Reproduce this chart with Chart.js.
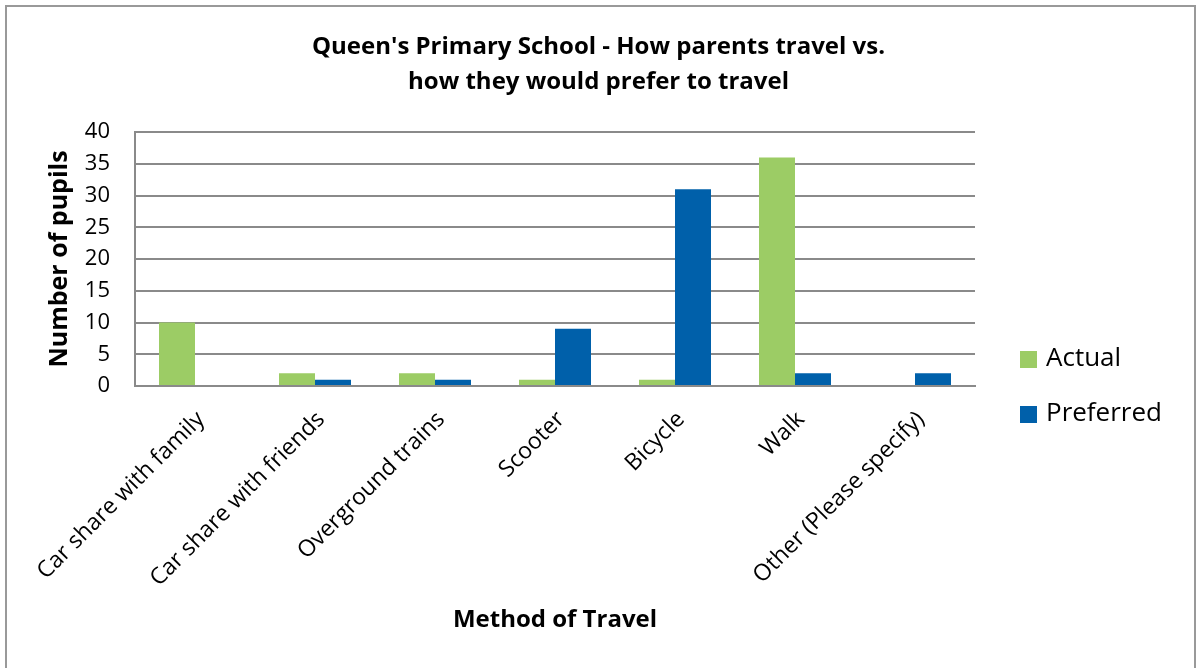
<!DOCTYPE html>
<html lang="en">
<head>
    <meta charset="UTF-8">
    <title>How parents travel vs. how they would prefer to travel</title>
    <script src="https://cdn.jsdelivr.net/npm/chart.js"></script>
    <style>
        html, body {
            margin: 0;
            padding: 0;
            background: #ffffff;
        }
        canvas {
            display: block;
        }
    </style>
</head>
<body>
    <canvas id="travelChart" width="1197" height="668"></canvas>

    <script>
        // Survey data
        const methods = [
            'Car share with family',
            'Car share with friends',
            'Overground trains',
            'Scooter',
            'Bicycle',
            'Walk',
            'Other (Please specify)'
        ];
        const actual = [10, 2, 2, 1, 1, 36, 0];
        const preferred = [0, 1, 1, 9, 31, 2, 2];
        const yTicks = [0, 5, 10, 15, 20, 25, 30, 35, 40];

        const FONT = '"Open Sans", Lato, sans-serif';
        const GRID = '#8a8a8a';

        // Frame around the whole chart
        const framePlugin = {
            id: 'frame',
            beforeDraw(chart) {
                const ctx = chart.ctx;
                ctx.save();
                ctx.strokeStyle = '#999999';
                ctx.lineWidth = 2;
                ctx.strokeRect(6, 6, 1189, 700);
                ctx.restore();
            }
        };

        // Legend on the right: a layout box keeps its width reserved
        // (so the title still centres on the full canvas) and draws the keys
        const sideLegend = {
            id: 'sideLegend',
            beforeInit(chart) {
                const box = {
                    position: 'right',
                    weight: 1000,
                    fullSize: false,
                    options: {},
                    left: 0, top: 0, right: 0, bottom: 0, width: 0, height: 0,
                    isHorizontal() { return false; },
                    getPadding() { return { left: 0, right: 0, top: 0, bottom: 0 }; },
                    update(maxWidth, maxHeight) {
                        this.width = 222;
                        this.height = maxHeight;
                    },
                    draw() {
                        const ctx = chart.ctx;
                        ctx.save();
                        ctx.font = '26px ' + FONT;
                        ctx.textBaseline = 'middle';
                        chart.data.datasets.forEach((ds, i) => {
                            const y = 359 + i * 55;
                            ctx.fillStyle = ds.backgroundColor;
                            ctx.fillRect(1020, y - 8, 17, 17);
                            ctx.fillStyle = '#000000';
                            ctx.fillText(ds.label, 1046, y);
                        });
                        ctx.restore();
                    }
                };
                Chart.layouts.addBox(chart, box);
            }
        };

        const ctx = document.getElementById('travelChart').getContext('2d');
        new Chart(ctx, {
            type: 'bar',
            data: {
                labels: methods,
                datasets: [{
                    label: 'Actual',
                    data: actual,
                    backgroundColor: '#9ccc65'
                }, {
                    label: 'Preferred',
                    data: preferred,
                    backgroundColor: '#0060aa'
                }]
            },
            options: {
                responsive: false,
                animation: false,
                layout: {
                    padding: 0
                },
                datasets: {
                    bar: {
                        categoryPercentage: 0.6,
                        barPercentage: 1.0
                    }
                },
                plugins: {
                    legend: { display: false },
                    tooltip: { enabled: false },
                    title: {
                        display: true,
                        text: ["Queen's Primary School - How parents travel vs.", 'how they would prefer to travel'],
                        color: '#000000',
                        font: { family: FONT, size: 24, weight: 'bold', lineHeight: 35 / 24 },
                        padding: { top: 29.5, bottom: 32.5 }
                    }
                },
                scales: {
                    x: {
                        grid: { display: false },
                        border: { display: true, color: GRID, width: 2 },
                        ticks: {
                            color: '#000000',
                            font: { family: FONT, size: 23 },
                            minRotation: 45,
                            maxRotation: 45,
                            padding: 12,
                            labelOffset: 6
                        },
                        title: {
                            display: true,
                            text: 'Method of Travel',
                            color: '#000000',
                            font: { family: FONT, size: 24, weight: 'bold' },
                            padding: { top: 4, bottom: 33.6 }
                        },
                        afterFit(scale) {
                            scale.height = 282;
                        }
                    },
                    y: {
                        min: 0,
                        max: 40,
                        grid: { color: GRID, lineWidth: 2, drawTicks: false },
                        border: { display: true, color: GRID, width: 2 },
                        afterBuildTicks(scale) {
                            scale.ticks = yTicks.map(v => ({ value: v }));
                        },
                        ticks: {
                            color: '#000000',
                            font: { family: FONT, size: 22 },
                            padding: 25
                        },
                        title: {
                            display: true,
                            text: 'Number of pupils',
                            color: '#000000',
                            font: { family: FONT, size: 25, weight: 'bold' },
                            padding: { top: 45, bottom: 4 }
                        },
                        afterFit(scale) {
                            scale.width = 135;
                        }
                    }
                }
            },
            plugins: [framePlugin, sideLegend]
        });
    </script>
</body>
</html>
